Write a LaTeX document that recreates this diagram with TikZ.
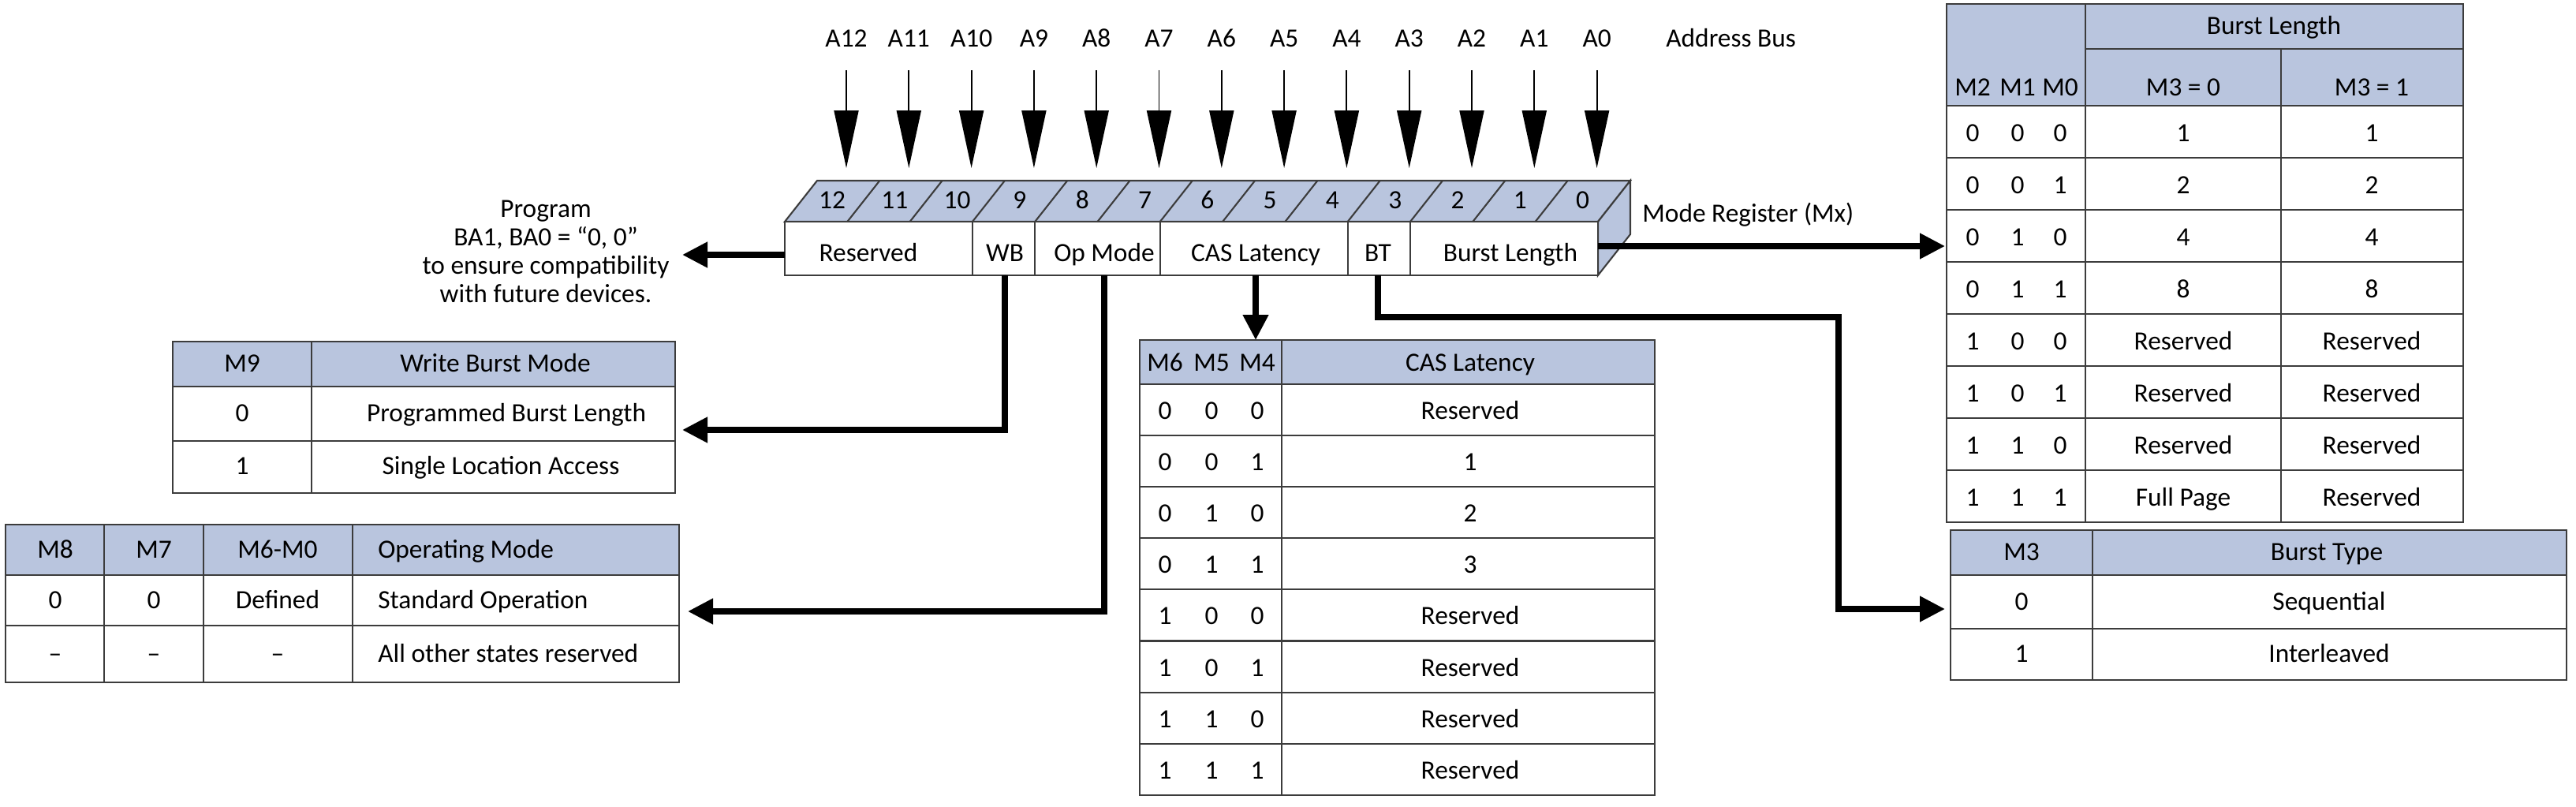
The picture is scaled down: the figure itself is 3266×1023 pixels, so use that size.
\documentclass[tikz,border=0pt]{standalone}
\usepackage{fontspec}
\setmainfont{Carlito}
\usetikzlibrary{arrows.meta,positioning}
\definecolor{hdrblue}{RGB}{185,197,222}
\definecolor{rulegray}{RGB}{60,60,60}
\tikzset{
  grid/.style={draw=rulegray, line width=1.2pt},
  hdr/.style={grid, fill=hdrblue},
  txt/.style={font=\fontsize{19pt}{20.5pt}\selectfont, inner sep=0pt, anchor=base},
  bigarrow/.style={line width=0.15cm, -{Triangle[length=0.64cm, width=0.62cm]}},
  busarrow/.style={line width=1.1pt, -{Triangle[length=1.46cm, width=0.62cm]}},
}
\begin{document}
\begin{tikzpicture}[x=0.02cm, y=-0.02cm]
    \useasboundingbox (0,0) rectangle (3266,1023);

    % Address bus
    \foreach \i [count=\k from 0] in {12,...,0} {
        \node[txt] (a\i) at (1073+79.3*\k,60) {A\i};
        \coordinate (s\i) at (1073+79.3*\k,89);
        \coordinate (t\i) at (1073+79.3*\k,213);
        \draw[busarrow] (s\i) -- (t\i);
    }
    \node[txt, anchor=base west] (abus) at (2112,60) {Address Bus};

    % Mode register
    \filldraw[hdr] (995,281) -- (1036,229) -- (2067,229) -- (2026,281) -- cycle;
    \filldraw[hdr] (2026,281) -- (2067,229) -- (2067,297) -- (2026,349) -- cycle;
    \foreach \k in {1,...,12}
        \draw[grid] (995+79.3*\k,281) -- (1036+79.3*\k,229);
    \foreach \i [count=\k from 0] in {12,...,0}
        \node[txt] (n\i) at (1055+79.3*\k,265) {\i};
    \draw[grid, fill=white] (995,281) rectangle (2026,349);
    \foreach \k in {3,4,6,9,10}
        \draw[grid] (995+79.3*\k,281) -- (995+79.3*\k,349);
    \node[txt] (fres) at (1101,332) {Reserved};
    \node[txt] (fwb) at (1274,332) {WB};
    \node[txt] (fop) at (1400,332) {Op Mode};
    \node[txt] (fcas) at (1592,332) {CAS Latency};
    \node[txt] (fbt) at (1747,332) {BT};
    \node[txt] (fbl) at (1915,332) {Burst Length};
    \node[txt, anchor=base west] (mreg) at (2082,282) {Mode Register (Mx)};

    % Note
    \node[txt, anchor=center, align=center] (prog) at (692,319)
        {Program\\BA1, BA0 = “0, 0”\\to ensure compatibility\\with future devices.};

    % Write burst mode
    \filldraw[hdr] (219,433) rectangle (856,490);
    \draw[grid] (219,490) rectangle (856,625);
    \draw[grid] (219,559) -- (856,559);
    \draw[grid] (395,433) -- (395,625);
    \node[txt] (wbh) at (307,472) {M9};
    \node[txt] (wbht) at (628,472) {Write Burst Mode};
    \node[txt] (wb0) at (307,535) {0};
    \node[txt] (wb0t) at (642,535) {Programmed Burst Length};
    \node[txt] (wb1) at (307,602) {1};
    \node[txt] (wb1t) at (635,602) {Single Location Access};

    % Operating mode
    \filldraw[hdr] (7,665) rectangle (861,729);
    \draw[grid] (7,729) rectangle (861,865);
    \draw[grid] (7,793) -- (861,793);
    \foreach \x in {132,258,447}
        \draw[grid] (\x,665) -- (\x,865);
    \foreach \y/\a/\b/\c/\d [count=\r] in {707/M8/M7/M6-M0/Operating Mode,
            771/0/0/Defined/Standard Operation, 839/--/--/--/All other states reserved} {
        \node[txt] (op\r a) at (70,\y) {\a};
        \node[txt] (op\r b) at (195,\y) {\b};
        \node[txt] (op\r c) at (352,\y) {\c};
        \node[txt, anchor=base west] (op\r d) at (479,\y) {\d};
    }

    % CAS latency
    \filldraw[hdr] (1445,431) rectangle (2098,487);
    \draw[grid] (1445,487) rectangle (2098,1008);
    \foreach \r in {1,...,7}
        \draw[grid] (1445,487+65.1*\r) -- (2098,487+65.1*\r);
    \draw[grid] (1625,431) -- (1625,1008);
    \node[txt] (cash6) at (1477,471) {M6};
    \node[txt] (cash5) at (1536,471) {M5};
    \node[txt] (cash4) at (1594,471) {M4};
    \node[txt] (casht) at (1864,471) {CAS Latency};
    \foreach \p/\q/\s/\v [count=\r from 0] in {0/0/0/Reserved, 0/0/1/1, 0/1/0/2, 0/1/1/3,
            1/0/0/Reserved, 1/0/1/Reserved, 1/1/0/Reserved, 1/1/1/Reserved} {
        \node[txt] (cas\r a) at (1477,531.5+65.1*\r) {\p};
        \node[txt] (cas\r b) at (1536,531.5+65.1*\r) {\q};
        \node[txt] (cas\r c) at (1594,531.5+65.1*\r) {\s};
        \node[txt] (cas\r v) at (1864,531.5+65.1*\r) {\v};
    }

    % Burst length
    \filldraw[hdr] (2468,5) rectangle (3123,134);
    \draw[grid] (2644,62) -- (3123,62);
    \draw[grid] (2644,5) -- (2644,662);
    \draw[grid] (2892,62) -- (2892,662);
    \draw[grid] (2468,134) rectangle (3123,662);
    \foreach \r in {1,...,7}
        \draw[grid] (2468,134+66*\r) -- (3123,134+66*\r);
    \node[txt] (blht) at (2883,44) {Burst Length};
    \node[txt] (blh2) at (2501,122) {M2};
    \node[txt] (blh1) at (2558,122) {M1};
    \node[txt] (blh0) at (2612,122) {M0};
    \node[txt] (blhs) at (2768,122) {M3 = 0};
    \node[txt] (blhi) at (3007,122) {M3 = 1};
    \foreach \p/\q/\s/\u/\v [count=\r from 0] in {0/0/0/1/1, 0/0/1/2/2, 0/1/0/4/4, 0/1/1/8/8,
            1/0/0/Reserved/Reserved, 1/0/1/Reserved/Reserved, 1/1/0/Reserved/Reserved,
            1/1/1/Full Page/Reserved} {
        \node[txt] (bl\r a) at (2501,180+66*\r) {\p};
        \node[txt] (bl\r b) at (2558,180+66*\r) {\q};
        \node[txt] (bl\r c) at (2612,180+66*\r) {\s};
        \node[txt] (bl\r u) at (2768,180+66*\r) {\u};
        \node[txt] (bl\r v) at (3007,180+66*\r) {\v};
    }

    % Burst type
    \filldraw[hdr] (2473,672) rectangle (3254,729);
    \draw[grid] (2473,729) rectangle (3254,862);
    \draw[grid] (2473,797) -- (3254,797);
    \draw[grid] (2653,672) -- (2653,862);
    \node[txt] (bth) at (2563,710) {M3};
    \node[txt] (btht) at (2950,710) {Burst Type};
    \node[txt] (bt0) at (2563,773) {0};
    \node[txt] (bt0t) at (2953,773) {Sequential};
    \node[txt] (bt1) at (2563,839) {1};
    \node[txt] (bt1t) at (2953,839) {Interleaved};

    % Connectors
    \coordinate (regleft) at (995,323);
    \coordinate (regright) at (2026,312);
    \coordinate (regbot) at (0,349);
    \coordinate (progtip) at (865,323);
    \coordinate (wbtip) at (865,545);
    \coordinate (optip) at (872,775);
    \coordinate (castip) at (1592,431);
    \coordinate (btturn) at (2331,402);
    \coordinate (bttip) at (2466,772);
    \coordinate (bltip) at (2466,312);
    \draw[bigarrow] (regleft) -- (progtip);
    \draw[bigarrow] (fwb |- regbot) |- (wbtip);
    \draw[bigarrow] (fop |- regbot) |- (optip);
    \draw[bigarrow] (fcas |- regbot) -- (castip);
    \draw[bigarrow] (fbt |- regbot) |- (btturn) |- (bttip);
    \draw[bigarrow] (regright) -- (bltip);
\end{tikzpicture}
\end{document}
